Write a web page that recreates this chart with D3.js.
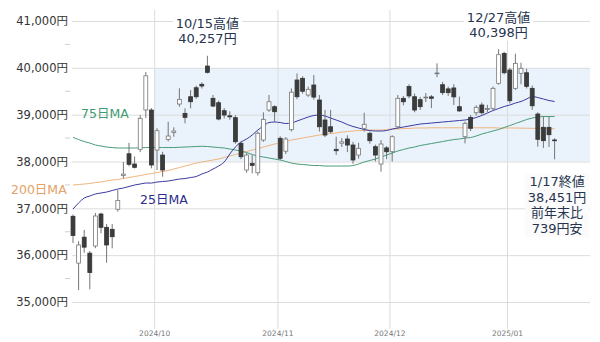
<!DOCTYPE html>
<html>
<head>
<meta charset="utf-8">
<script src="https://cdn.jsdelivr.net/npm/d3@7"></script>
<style>
  body { margin: 0; background: #fff; }
  svg { display: block; }
  text { font-family: "DejaVu Sans", "Noto Sans CJK JP", sans-serif; }
</style>
</head>
<body>
<div id="chart"></div>
<script>
// trading days shown on the chart
var dates = [
  "2024/09/06","2024/09/09","2024/09/10","2024/09/11","2024/09/12","2024/09/13","2024/09/17","2024/09/18","2024/09/19","2024/09/20","2024/09/24","2024/09/25","2024/09/26","2024/09/27","2024/09/30",
  "2024/10/01","2024/10/02","2024/10/03","2024/10/04","2024/10/07","2024/10/08","2024/10/09","2024/10/10","2024/10/11","2024/10/15","2024/10/16","2024/10/17","2024/10/18","2024/10/21","2024/10/22","2024/10/23","2024/10/24","2024/10/25","2024/10/28","2024/10/29","2024/10/30","2024/10/31",
  "2024/11/01","2024/11/05","2024/11/06","2024/11/07","2024/11/08","2024/11/11","2024/11/12","2024/11/13","2024/11/14","2024/11/15","2024/11/18","2024/11/19","2024/11/20","2024/11/21","2024/11/22","2024/11/25","2024/11/26","2024/11/27","2024/11/28","2024/11/29",
  "2024/12/02","2024/12/03","2024/12/04","2024/12/05","2024/12/06","2024/12/09","2024/12/10","2024/12/11","2024/12/12","2024/12/13","2024/12/16","2024/12/17","2024/12/18","2024/12/19","2024/12/20","2024/12/23","2024/12/24","2024/12/25","2024/12/26","2024/12/27","2024/12/30",
  "2025/01/06","2025/01/07","2025/01/08","2025/01/09","2025/01/10","2025/01/14","2025/01/15","2025/01/16","2025/01/17"
];

// candles (yen)
var open = [
  36830,35830,36384,36043,36196,36879,36595,36552,36980,37700,38165,37946,38260,39100,39099,
  38245,38138,38473,38620,39227,39028,39383,39575,39648,40038,39349,39255,39084,38975,38935,38388,37818,37961,37760,38458,39099,39170,
  38495,38220,38680,39740,39776,39419,39633,39313,38886,38742,38260,38390,38480,38352,38138,38709,38602,38316,37946,38290,
  38209,38742,39349,39600,39383,39320,39360,39380,39880,39640,39550,39570,39170,38529,38943,39041,39206,39110,39135,39669,40309,
  39953,39562,39883,39895,39562,39014,38730,38730,38460
];
var high = [
  36870,36300,36540,36090,36900,36906,36665,36665,37390,37990,38400,38110,38990,39910,39140,
  38710,38209,38849,38730,39562,39135,39526,39620,39690,40257,39420,39300,39140,39070,38990,38430,38180,38138,38640,39050,39420,39200,
  38540,38520,39560,39880,39820,39600,39846,39420,39100,39100,38530,38500,38560,38420,38400,39041,38640,38360,38458,38330,
  38560,39420,39400,39650,39450,39380,39460,39420,40096,39700,39600,39650,39383,38850,38990,39200,39260,39210,39600,40398,40340,
  40000,40300,40110,39980,39620,39050,38960,38950,38495
];
var low = [
  36260,35256,36050,35271,36150,36467,35839,36147,36930,37640,37900,37850,38200,38930,37854,
  37818,37675,38430,38529,39170,38815,39135,39340,39560,39880,39160,38880,38920,38890,38380,38050,37760,37748,37700,38420,39060,38849,
  38030,38160,38640,39330,39450,39380,39320,38640,38520,38600,38140,38310,38200,37950,38060,38640,38380,38000,37782,38050,
  38000,38700,39200,39350,39050,39100,39270,39140,39800,39420,39400,39206,39060,38388,38650,38980,39000,39050,39100,39640,39860,
  39240,39530,39650,39560,39100,38316,38290,38310,38047
];
var close = [
  36420,36218,36171,35629,36836,36595,36217,36394,37170,37730,37940,37876,38922,39829,37925,
  38657,37818,38544,38650,39327,38943,39276,39383,39612,39904,39184,38907,38992,38954,38422,38102,38138,37918,38602,38900,39276,39063,
  38068,38480,39480,39383,39500,39541,39376,38742,38565,38636,38230,38420,38352,38032,38281,38794,38444,38138,38373,38208,
  38529,39349,39276,39400,39099,39170,39375,39350,39890,39470,39470,39380,39080,38815,38709,39157,39041,39130,39562,40281,39895,
  39298,40096,39989,39605,39190,38474,38444,38572,38451
];

// moving averages (yen)
var ma25 = [
  36985,37114,37220,37263,37306,37327,37348,37380,37412,37434,37466,37498,37519,37540,37540,
  37562,37572,37583,37604,37626,37636,37658,37679,37733,37775,37839,37903,37989,38160,38309,38416,38480,38565,38672,38757,38832,38843,
  38832,38811,38821,38864,38907,38950,38982,38992,38971,38928,38886,38843,38789,38747,38715,38683,38661,38651,38651,38661,
  38693,38715,38736,38757,38779,38800,38811,38821,38832,38843,38853,38864,38875,38886,38907,38939,38982,39035,39088,39131,39174,
  39206,39248,39281,39334,39387,39366,39334,39302,39281
];
var ma75 = [
  38516,38469,38426,38394,38352,38330,38309,38298,38288,38288,38288,38288,38293,38298,38298,
  38298,38298,38298,38298,38303,38309,38314,38320,38325,38320,38309,38298,38288,38266,38245,38224,38192,38149,38117,38096,38074,38053,
  38032,38000,37967,37946,37935,37925,37914,37914,37903,37903,37903,37903,37903,37914,37946,37989,38021,38053,38096,38138,
  38181,38224,38256,38288,38309,38341,38362,38384,38405,38426,38448,38469,38480,38501,38512,38544,38587,38619,38651,38683,38725,
  38768,38811,38853,38896,38928,38950,38960,38960,38960
];
var ma200 = [
  37498,37508,37519,37530,37551,37562,37583,37604,37615,37636,37658,37679,37700,37722,37743,
  37764,37786,37807,37839,37871,37903,37935,37967,37989,38010,38032,38053,38085,38117,38149,38181,38213,38245,38277,38309,38341,38373,
  38394,38426,38459,38480,38501,38523,38544,38565,38587,38597,38608,38629,38640,38651,38661,38661,38672,38672,38672,38683,
  38693,38693,38704,38704,38715,38715,38715,38720,38720,38720,38720,38720,38720,38720,38720,38720,38720,38720,38720,38715,38715,
  38715,38715,38712,38710,38708,38706,38704,38702,38700
];

var yTicks = [35000, 36000, 37000, 38000, 39000, 40000, 41000];
var yMinorTicks = [35500, 36500, 37500, 38500, 39500, 40500];
var bandRange = [38000, 40000];
var bandStart = "2024/10";

var highNotes = [
  { date: "2024/10/15", lines: ["10/15高値", "40,257円"] },
  { date: "2024/12/27", lines: ["12/27高値", "40,398円"] }
];
var closeNote = ["1/17終値", "38,451円", "前年末比", "739円安"];

var maLabels = [
  { text: "75日MA", x: 81, y: 114, color: "#3f9a72" },
  { text: "200日MA", x: 11, y: 190, color: "#e3a267" },
  { text: "25日MA", x: 140, y: 200, color: "#2c2c8e" }
];

// ---------------------------------------------------------------
var width = 600, height = 342;
var left = 72, right = 590;

var svg = d3.select("#chart")
  .append("svg")
    .attr("width", width)
    .attr("height", height);

var n = dates.length;
var x = d3.scaleLinear().domain([0, n - 1]).range([73, 554.6]);
var y = d3.scaleLinear().domain([35000, 41000]).range([302, 21]);

// month boundaries sit half a day before the first trading day
var months = [];
dates.forEach(function (d, i) {
  if (i > 0 && d.slice(0, 7) !== dates[i - 1].slice(0, 7)) {
    months.push({ label: d.slice(0, 7), pos: i - 0.5 });
  }
});

// shaded range band
var bandMonth = months.filter(function (m) { return m.label === bandStart; })[0];
svg.append("rect")
    .attr("x", x(bandMonth.pos))
    .attr("y", y(bandRange[1]))
    .attr("width", right - x(bandMonth.pos))
    .attr("height", y(bandRange[0]) - y(bandRange[1]))
    .attr("fill", "#eaf2fb");

// y axis with gridlines
var yAxis = svg.append("g")
    .attr("transform", "translate(" + left + ",0)")
    .call(d3.axisLeft(y)
      .tickValues(yTicks)
      .tickSize(-(right - left))
      .tickPadding(4)
      .tickFormat(function (d) { return d3.format(",")(d) + "円"; }));
yAxis.select(".domain").remove();
yAxis.selectAll(".tick line").attr("stroke", "#dcdcdc");
yAxis.selectAll(".tick text")
    .attr("fill", "#333")
    .attr("font-size", 11.5)
    .attr("font-family", "DejaVu Sans, Noto Sans CJK JP, sans-serif");

// minor ticks
svg.selectAll(".minor")
  .data(yMinorTicks)
  .enter().append("line")
    .attr("x1", 65).attr("x2", 70)
    .attr("y1", function (d) { return y(d); })
    .attr("y2", function (d) { return y(d); })
    .attr("stroke", "#d0d0d0");

// x axis: month lines and labels
var xAxis = svg.append("g")
    .attr("transform", "translate(0,329)")
    .call(d3.axisBottom(x)
      .tickValues(months.map(function (m) { return m.pos; }))
      .tickSize(-319)
      .tickFormat(function (d, i) { return months[i].label; }));
xAxis.select(".domain").remove();
xAxis.selectAll(".tick line").attr("stroke", "#dcdcdc");
xAxis.selectAll(".tick text")
    .attr("y", 5)
    .attr("dy", "0.32em")
    .attr("fill", "#777")
    .attr("font-size", 7.5)
    .attr("font-family", "DejaVu Sans, sans-serif");

// moving average lines
function maLine(values) {
  return d3.line()
    .x(function (d, i) { return x(i); })
    .y(function (d) { return y(d); })
    .curve(d3.curveMonotoneX)(values);
}
[[ma200, "#f0b57e"], [ma75, "#4a9c78"], [ma25, "#3b3ba0"]].forEach(function (s) {
  svg.append("path")
      .attr("d", maLine(s[0]))
      .attr("fill", "none")
      .attr("stroke", s[1])
      .attr("stroke-width", 1);
});

// candles
var candles = svg.append("g").selectAll("g")
  .data(dates)
  .enter().append("g");

candles.append("line")
    .attr("x1", function (d, i) { return x(i); })
    .attr("x2", function (d, i) { return x(i); })
    .attr("y1", function (d, i) { return y(high[i]); })
    .attr("y2", function (d, i) { return y(low[i]); })
    .attr("stroke", "#666")
    .attr("stroke-width", 0.9);

candles.append("rect")
    .attr("x", function (d, i) { return x(i) - 1.95; })
    .attr("width", 3.9)
    .attr("y", function (d, i) { return y(Math.max(open[i], close[i])); })
    .attr("height", function (d, i) {
      return Math.max(0.8, Math.abs(y(open[i]) - y(close[i])));
    })
    .attr("fill", function (d, i) { return close[i] >= open[i] ? "#fff" : "#3c3c3c"; })
    .attr("stroke", function (d, i) { return close[i] >= open[i] ? "#777" : "#333"; })
    .attr("stroke-width", 0.8);

// moving average labels
svg.selectAll(".malabel")
  .data(maLabels)
  .enter().append("text")
    .attr("x", function (d) { return d.x; })
    .attr("y", function (d) { return d.y; })
    .attr("dy", "0.35em")
    .attr("font-size", 12.5)
    .attr("fill", function (d) { return d.color; })
    .text(function (d) { return d.text; });

// labels with a background box
function noteBox(lines, cx, firstY, lineGap, bg) {
  var g = svg.append("g");
  var rect = g.append("rect").attr("fill", bg);
  lines.forEach(function (t, k) {
    g.append("text")
        .attr("x", cx)
        .attr("y", firstY + k * lineGap)
        .attr("dy", "0.35em")
        .attr("text-anchor", "middle")
        .attr("font-size", 13)
        .attr("fill", "#26344f")
        .text(t);
  });
  var bb = g.node().getBBox();
  rect.attr("x", bb.x - 3).attr("y", bb.y - 1)
      .attr("width", bb.width + 6).attr("height", bb.height + 2);
}

highNotes.forEach(function (h) {
  var i = dates.indexOf(h.date);
  var top = y(high[i]);
  noteBox(h.lines, x(i), top - 32, 15, "#fff");
});

var last = n - 1;
noteBox(closeNote, x(last) + 2.5, y(close[last]) + 41.5, 15.5, "#fbfbfb");
</script>
</body>
</html>
